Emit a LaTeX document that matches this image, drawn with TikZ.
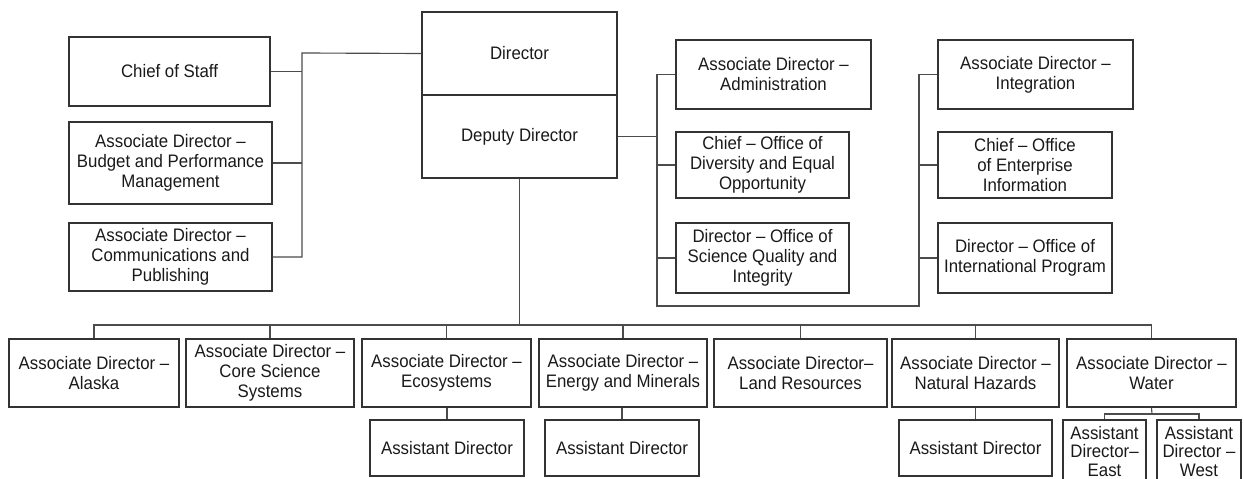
\documentclass[tikz,border=0pt]{standalone}
\usepackage{fontspec}
\setmainfont{Liberation Sans}[FakeStretch=0.93]
\usepackage{tikz}
\usetikzlibrary{calc}

\begin{document}
\begin{tikzpicture}[x=0.02cm, y=-0.02cm,
    unit/.style={draw=black!80, line width=0.85pt, align=center, inner sep=1pt,
        text=black!90, font=\fontsize{10.3}{11.4}\selectfont},
    link/.style={draw=black!70, line width=0.65pt}]
    \useasboundingbox (0,0) rectangle (1244,479);

    \node[unit, minimum width=4.02cm, minimum height=1.38cm] (cos) at (169.5,71.5) {Chief of Staff};
    \node[unit, minimum width=4.06cm, minimum height=1.64cm] (budget) at (170.5,163) {Associate Director --\\Budget and Performance\\Management};
    \node[unit, minimum width=4.06cm, minimum height=1.36cm] (comm) at (170.5,257) {Associate Director --\\Communications and\\Publishing};

    \node[unit, minimum width=3.90cm, minimum height=1.66cm] (director) at (519.5,53.5) {Director};
    \node[unit, minimum width=3.90cm, minimum height=1.66cm] (deputy) at (519.5,136.5) {Deputy Director};

    \node[unit, minimum width=3.90cm, minimum height=1.38cm] (admin) at (773.5,74.5) {Associate Director --\\Administration};
    \node[unit, minimum width=3.46cm, minimum height=1.32cm] (diversity) at (762.5,165) {Chief -- Office of\\Diversity and Equal\\Opportunity};
    \node[unit, minimum width=3.46cm, minimum height=1.40cm] (quality) at (762.5,258) {Director -- Office of\\Science Quality and\\Integrity};

    \node[unit, minimum width=3.90cm, minimum height=1.38cm] (integ) at (1035.5,74.5) {Associate Director --\\Integration};
    \node[unit, minimum width=3.48cm, minimum height=1.32cm] (enterprise) at (1025,165) {Chief -- Office\\of Enterprise\\Information};
    \node[unit, minimum width=3.48cm, minimum height=1.40cm] (intl) at (1025,258) {Director -- Office of\\International Program};

    \node[unit, minimum width=3.40cm, minimum height=1.36cm] (alaska) at (94,373) {Associate Director --\\Alaska};
    \node[unit, minimum width=3.36cm, minimum height=1.36cm] (core) at (270,373) {Associate Director --\\Core Science\\Systems};
    \node[unit, minimum width=3.38cm, minimum height=1.36cm] (eco) at (446.5,373) {Associate Director --\\Ecosystems};
    \node[unit, minimum width=3.36cm, minimum height=1.36cm] (energy) at (623,373) {Associate Director --\\Energy and Minerals};
    \node[unit, minimum width=3.46cm, minimum height=1.36cm] (land) at (800.5,373) {Associate Director--\\Land Resources};
    \node[unit, minimum width=3.34cm, minimum height=1.36cm] (hazards) at (975.5,373) {Associate Director --\\Natural Hazards};
    \node[unit, minimum width=3.38cm, minimum height=1.36cm] (water) at (1151.5,373) {Associate Director --\\Water};

    \node[unit, minimum width=3.08cm, minimum height=1.12cm] (ecoasst) at (447,448) {Assistant Director};
    \node[unit, minimum width=3.08cm, minimum height=1.12cm] (enasst) at (622,448) {Assistant Director};
    \node[unit, minimum width=3.06cm, minimum height=1.12cm] (hzasst) at (975.5,448) {Assistant Director};
    \node[unit, minimum width=1.66cm, minimum height=1.26cm, font=\fontsize{10.3}{10.5}\selectfont] (east) at (1104.5,451.5) {Assistant\\Director--\\East};
    \node[unit, minimum width=1.68cm, minimum height=1.26cm, font=\fontsize{10.3}{10.5}\selectfont] (west) at (1199,451.5) {Assistant\\Director --\\West};

    \coordinate (lbus) at (302,53);
    \coordinate (mbus) at (657,306);
    \coordinate (rbus) at (919,306);
    \coordinate (bus) at (520,325);
    \coordinate (wsplit) at (1152,414);

    \draw[link] (director.west) -- (lbus) -- (lbus |- comm.east) -- (comm.east);
    \draw[link] (cos.east) -- (cos.east -| lbus);
    \draw[link] (budget.east) -- (budget.east -| lbus);

    \draw[link] (admin.west) -| (mbus) -- (rbus) |- (integ.west);
    \draw[link] (deputy.east) -- (deputy.east -| mbus);
    \foreach \n in {diversity,quality} \draw[link] (\n.west) -- (\n.west -| mbus);
    \foreach \n in {enterprise,intl} \draw[link] (\n.west) -- (\n.west -| rbus);

    \draw[link] (deputy.south) -- (deputy.south |- bus);
    \draw[link] (alaska.north) -- (alaska.north |- bus) -| (water.north);
    \foreach \n in {core,eco,energy,land,hazards} \draw[link] (\n.north) -- (\n.north |- bus);

    \foreach \a/\b in {eco/ecoasst, energy/enasst, hazards/hzasst}
        \draw[link] (\b.north) -- (\b.north |- \a.south);
    \draw[link] (water.south) -- (wsplit);
    \draw[link] (east.north) |- (wsplit) -| (west.north);
\end{tikzpicture}
\end{document}
